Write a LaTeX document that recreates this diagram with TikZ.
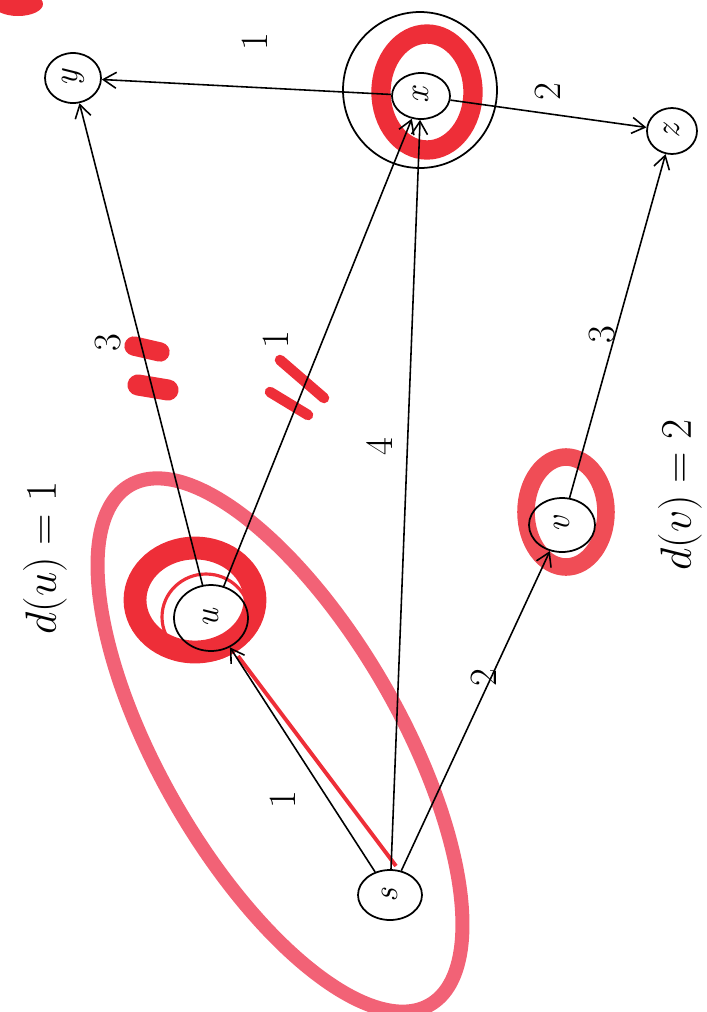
\documentclass[tikz,border=0pt]{standalone}
\usepackage{xcolor}
\usetikzlibrary{shapes.geometric,arrows.meta}

\definecolor{markred}{RGB}{238,46,56}
\definecolor{markpink}{RGB}{242,98,118}

\tikzset{
  vertex/.style={draw, ellipse, line width=1pt, inner sep=0pt, font=\fontsize{20}{24}\selectfont\itshape},
  edge/.style={-{Straight Barb[length=2.6mm,width=3.2mm]}, line width=0.9pt},
  wlabel/.style={rotate=90, font=\fontsize{22}{26}\selectfont},
  dlabel/.style={rotate=90, font=\fontsize{34}{40}\selectfont},
  marker/.style={markred, line cap=round},
}

\begin{document}
\begin{tikzpicture}[x=0.02cm, y=-0.02cm]
\useasboundingbox (0,0) rectangle (707,1012);

% highlighter marks, behind everything
\fill[markred] (18,4) ellipse [x radius=0.5cm, y radius=0.24cm];
\draw[markpink, line width=8pt, rotate around={-60:(280,745)}] (280,745) ellipse [x radius=6cm, y radius=2.4cm];
\draw[markred, line width=13pt] (195,600) ellipse [x radius=1.2cm, y radius=1.04cm];
\draw[markred, line width=1.8pt] (206,617) ellipse [x radius=0.88cm, y radius=0.86cm];
\draw[markred, line width=11pt] (427,92) ellipse [x radius=0.92cm, y radius=1.16cm];
\draw[markred!85, line width=10pt] (566,512) ellipse [x radius=0.8cm, y radius=1.1cm];
\draw[markred, line width=2.2pt] (396,866) -- (238,656);
\draw[marker, line width=11pt] (134,346) -- (160,352);
\draw[marker, line width=12pt] (138,385) -- (168,390);
\draw[marker, line width=6pt] (280,360) -- (324,398);
\draw[marker, line width=6pt] (270,392) -- (308,415);

% vertices
\node[vertex, minimum width=1.28cm, minimum height=1.0cm] (s) at (390,895) {\rotatebox{90}{s}};
\node[vertex, minimum width=1.48cm, minimum height=1.32cm] (u) at (211,618) {\rotatebox{90}{u}};
\node[vertex, minimum width=1.32cm, minimum height=1.08cm] (v) at (562,525) {\rotatebox{90}{v}};
\node[vertex, minimum width=1.16cm, minimum height=0.92cm] (x) at (421,96) {\rotatebox{90}{x}};
\node[vertex, minimum width=1.12cm, minimum height=1.0cm] (y) at (73,78) {\rotatebox{90}{y}};
\node[vertex, minimum width=1.0cm, minimum height=0.92cm] (z) at (672,131) {\rotatebox{90}{z}};
\draw[line width=1pt] (420,90) ellipse [x radius=1.54cm, y radius=1.56cm];

% edges
\draw[edge] (x) -- (y);
\draw[edge] (x) -- (z);
\draw[edge] (u) -- (y);
\draw[edge] (u) -- (x);
\draw[edge] (s) -- (x);
\draw[edge] (s) -- (u);
\draw[edge] (s) -- (v);
\draw[edge] (v) -- (z);

% weights
\node[wlabel] (wxy) at (255,42) {1};
\node[wlabel] (wxz) at (548,92) {2};
\node[wlabel] (wuy) at (108,343) {3};
\node[wlabel] (wux) at (276,340) {1};
\node[wlabel] (wsx) at (380,447) {4};
\node[wlabel] (wvz) at (602,335) {3};
\node[wlabel] (wsv) at (484,678) {2};
\node[wlabel] (wsu) at (283,800) {1};

% distances
\node[dlabel] (du) at (45,558) {$d(u) = 1$};
\node[dlabel] (dv) at (680,495) {$d(v) = 2$};

\end{tikzpicture}
\end{document}
